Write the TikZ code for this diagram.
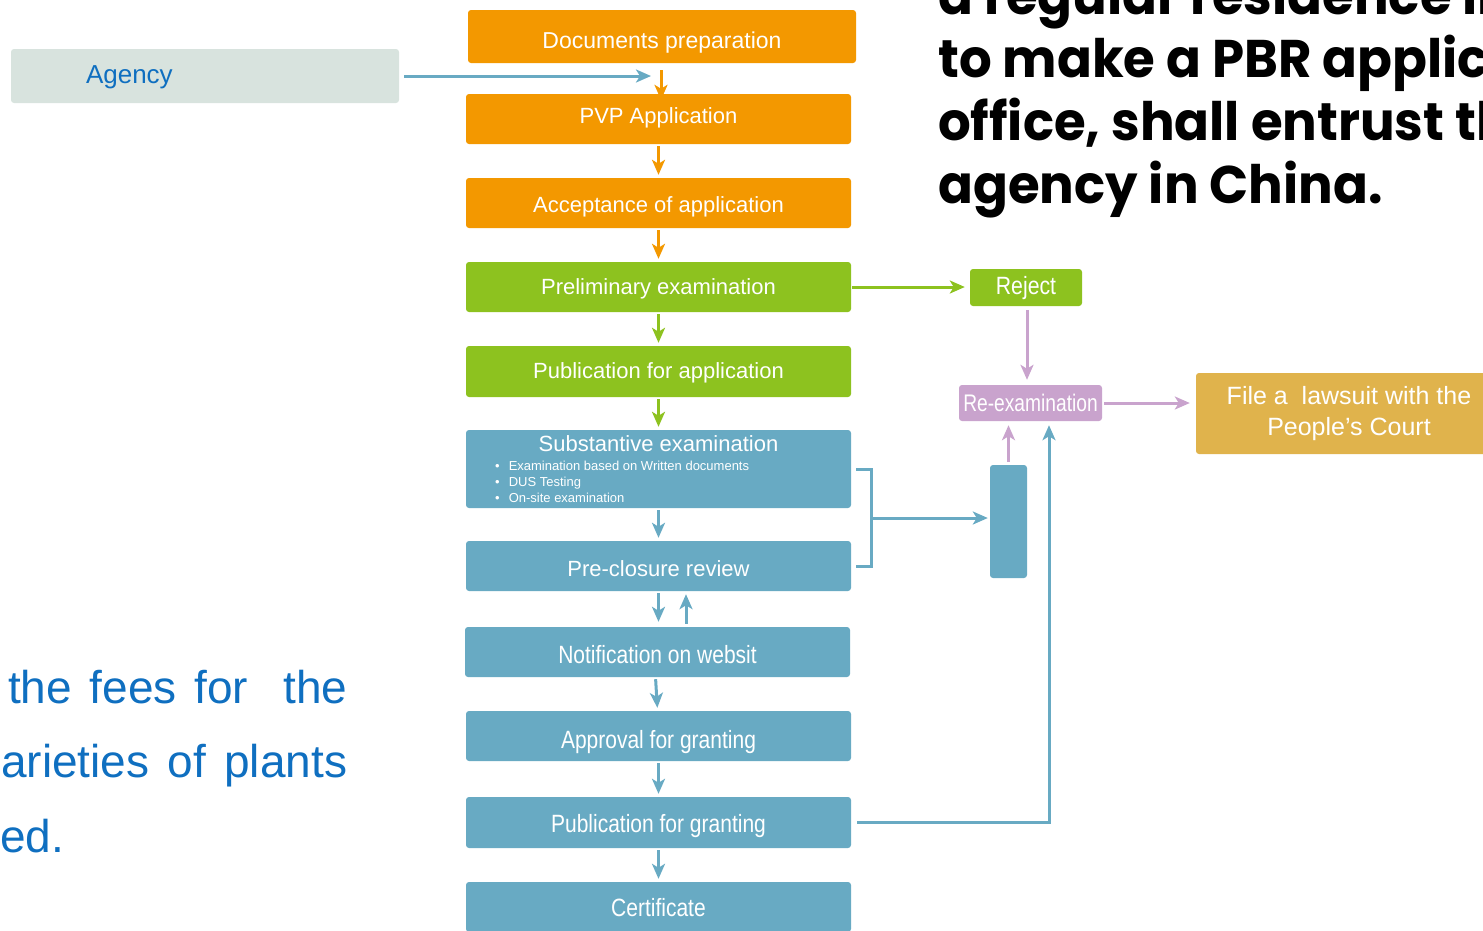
\documentclass[tikz,border=0pt]{standalone}
\usepackage{fontspec}
\usepackage{graphicx}
\setmainfont{Liberation Sans}
\newfontfamily\gothic{Poppins}
\usetikzlibrary{arrows.meta,calc}
\definecolor{cOr}{HTML}{F39800}
\definecolor{cGr}{HTML}{8DC21F}
\definecolor{cBl}{HTML}{68AAC3}
\definecolor{cPu}{HTML}{C9A3CD}
\definecolor{cGo}{HTML}{E0B34C}
\definecolor{cAg}{HTML}{D8E3DE}
\definecolor{cTx}{HTML}{0F6FC0}
\tikzset{
  box/.style={rounded corners=3pt, text=white, inner sep=0pt, minimum width=385pt, minimum height=50pt, font=\fontsize{22}{26}\selectfont},
  obox/.style={box, fill=cOr},
  gbox/.style={box, fill=cGr},
  bbox/.style={box, fill=cBl},
  bl/.style={text height=#1, text depth=0pt},
  arr/.style={line width=3pt, -{Stealth[length=15pt,width=13pt,inset=4pt]}, shorten <=2pt, shorten >=3pt},
  arrO/.style={arr, draw=cOr},
  arrG/.style={arr, draw=cGr},
  arrB/.style={arr, draw=cBl},
  arrP/.style={arr, draw=cPu},
  bline/.style={line width=3pt, draw=cBl},
  toptext/.style={inner sep=0pt, font=\gothic\bfseries\fontsize{53}{63}\selectfont, text=black},
  lefttext/.style={inner sep=0pt, font=\fontsize{46}{50}\selectfont, text=cTx},
}
\begin{document}
\begin{tikzpicture}[x=1pt,y=-1pt]
\useasboundingbox (0,0) rectangle (1483,930);
\clip (0,0) rectangle (1483,930);

% top right text
\node[toptext, anchor=base west] (t1) at (938,14) {\scalebox{0.97}[1]{a regular residence in}};
\node[toptext, anchor=base west] (t2) at (938,77) {\scalebox{0.97}[1]{to make a PBR application}};
\node[toptext, anchor=base west] (t3) at (938,140) {\scalebox{0.97}[1]{office, shall entrust the}};
\node[toptext, anchor=base west] (t4) at (938,203) {\scalebox{0.97}[1]{agency in China.}};

% left text
\node[lefttext, anchor=base west] (l1) at (8,703) {\makebox[339pt][s]{the fees for\ \ the}};
\node[lefttext, anchor=base west] (l2) at (1,777) {\makebox[346pt][s]{arieties of plants}};
\node[lefttext, anchor=base west] (l3) at (0,852) {ed.};

% agency
\node[rounded corners=3pt, fill=cAg, text=cTx, inner sep=0pt, minimum height=54pt, text width=388pt, align=left, bl=15pt, font=\fontsize{26}{30}\selectfont] (agency) at (205,76) {\hspace*{75pt}Agency};
\coordinate (agtip) at (651,76);

% main column
\node[obox, minimum width=388pt, minimum height=53pt, bl=23pt, font=\fontsize{23}{27}\selectfont] (docs) at (662,36.5) {Documents preparation};
\node[obox, bl=9pt] (pvp) at (658.5,119) {PVP Application};
\node[obox, bl=18pt] (acc) at (658.5,203) {Acceptance of application};
\node[gbox, bl=14pt] (pre) at (658.5,287) {Preliminary examination};
\node[gbox, minimum height=51pt, bl=13pt] (pubapp) at (658.5,371.5) {Publication for application};
\node[bbox, minimum height=78pt] (subst) at (658.5,469) {};
\node[inner sep=0pt, text=white, anchor=base, font=\fontsize{22}{26}\selectfont] (substt) at (658.5,451) {Substantive examination};
\node[inner sep=0pt, text=white, anchor=north west, align=left, font=\fontsize{13}{16}\selectfont] (substb) at (495,461)
  {\textbullet\hspace{9pt}Examination based on Written documents\\
   \textbullet\hspace{9pt}DUS Testing\\
   \textbullet\hspace{9pt}On-site examination};
\node[bbox, bl=20pt] (preclos) at (658.5,566) {Pre-closure review};
\node[bbox, bl=22pt, font=\fontsize{25}{28}\selectfont] (notif) at (657.5,652) {\scalebox{0.84}[1]{Notification on websit}};
\node[bbox, bl=24pt, font=\fontsize{25}{28}\selectfont] (appr) at (658.5,736) {\scalebox{0.84}[1]{Approval for granting}};
\node[bbox, minimum height=51pt, bl=19pt, font=\fontsize{25}{28}\selectfont] (pubgr) at (658.5,822.5) {\scalebox{0.84}[1]{Publication for granting}};
\node[bbox, bl=18pt, font=\fontsize{25}{28}\selectfont] (cert) at (658.5,907) {\scalebox{0.84}[1]{Certificate}};

% right side
\node[gbox, minimum width=112pt, minimum height=37pt, bl=13pt, font=\fontsize{25}{28}\selectfont] (reject) at (1026,287.5) {\scalebox{0.85}[1]{Reject}};
\node[box, fill=cPu, minimum width=143pt, minimum height=36pt, bl=17pt, font=\fontsize{24}{28}\selectfont] (reexam) at (1030.5,403) {\scalebox{0.8}[1]{Re-examination}};
\node[box, fill=cGo, minimum width=306pt, minimum height=81pt, align=center, font=\fontsize{25}{31}\selectfont] (law) at (1349,413.5) {File a\ \ lawsuit with the\\People's Court};
\node[box, fill=cBl, minimum width=37pt, minimum height=113pt] (tall) at (1008.5,521.5) {};

% arrows main column
\draw[arrB, shorten <=5pt, shorten >=0pt] (agency.east) -- (agtip);
\draw[arrO, shorten <=7pt, shorten >=-6pt] ([xshift=-1pt]docs.south) -- ([xshift=-1pt]docs.south |- pvp.north);
\draw[arrO] (pvp.south) -- (acc.north);
\draw[arrO] (acc.south) -- (pre.north);
\draw[arrG] (pre.south) -- (pubapp.north);
\draw[arrG] (pubapp.south) -- (subst.north);
\draw[arrB] (subst.south) -- (preclos.north);
\draw[arrB, shorten >=5pt] (preclos.south) -- (preclos.south |- notif.north);
\draw[arrB, shorten <=3pt] ([xshift=28.5pt]notif.north) -- ([xshift=28.5pt]notif.north |- preclos.south);
\draw[arrB] ([xshift=-2pt]notif.south) -- ([xshift=-1pt]appr.north);
\draw[arrB] (appr.south) -- (pubgr.north);
\draw[arrB] (pubgr.south) -- (cert.north);

% right connections
\draw[arrG, shorten <=1pt, shorten >=5pt] (pre.east) -- (pre.east -| reject.west);
\draw[arrP, shorten <=4pt, shorten >=5pt] ([xshift=1pt]reject.south) -- ([xshift=1pt]reject.south |- reexam.north);
\draw[arrP, shorten <=2pt, shorten >=6pt] (reexam.east) -- (reexam.east -| law.west);
\draw[bline] ([xshift=5pt]subst.east) -- ++(15,0) coordinate (brtop) |- ([xshift=5pt]preclos.east);
\coordinate (brmid) at (871,518);
\draw[arrB, shorten <=0pt, shorten >=2pt] (brmid) -- (brmid -| tall.west);
\draw[arrP, shorten <=3pt, shorten >=4pt] (tall.north) -- (tall.north |- reexam.south);
\draw[arrB, shorten <=6pt, shorten >=4pt] (pubgr.east) -| ([xshift=18.5pt]reexam.south);
\end{tikzpicture}
\end{document}
